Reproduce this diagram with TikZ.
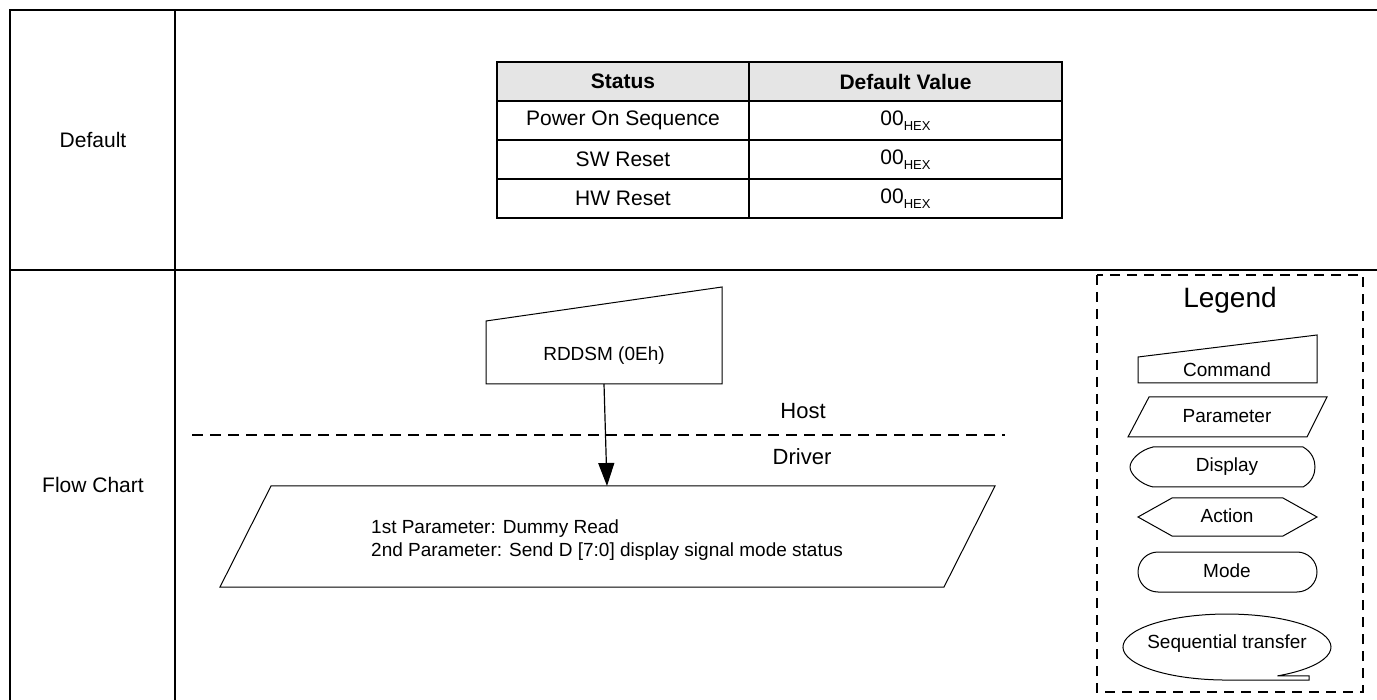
\documentclass[tikz,border=0pt]{standalone}
\usepackage{fontspec}
\setmainfont{Liberation Sans}
\usetikzlibrary{arrows.meta}
\begin{document}
\begin{tikzpicture}[x=1pt,y=-1pt,
  frame/.style={line width=2pt},
  tbl/.style={line width=2pt},
  shp/.style={draw, line width=1pt, line join=miter},
  sepline/.style={line width=1.4pt, dash pattern=on 11pt off 7pt},
  legbox/.style={line width=1.2pt, dash pattern=on 10pt off 7pt},
  big/.style={font=\fontsize{21}{25}\selectfont, inner sep=0pt},
  bigb/.style={font=\fontsize{21}{25}\selectfont\bfseries, inner sep=0pt},
  mid/.style={font=\fontsize{19}{23}\selectfont, inner sep=0pt},
  side/.style={font=\fontsize{22}{26}\selectfont, inner sep=0pt},
  ttl/.style={font=\fontsize{28}{32}\selectfont, inner sep=0pt},
  arr/.style={line width=1.2pt, -{Triangle[length=23pt,width=16pt]}}
]
\useasboundingbox (0,0) rectangle (1377,700);
\fill[white] (0,0) rectangle (1377,700);
\newcommand{\hexv}{00\raisebox{-5pt}{\fontsize{13}{13}\selectfont HEX}}

% outer frame
\draw[frame] (10,700) -- (10,10) -- (1377,10);
\draw[frame] (175,10) -- (175,700);
\draw[frame] (10,270) -- (1377,270);
\node[big] (lDefault) at (93,140) {Default};
\node[big] (lFlow) at (93,485) {Flow Chart};

% inner table
\fill[black!10] (497,62) rectangle (1062,101);
\draw[tbl] (497,62) rectangle (1062,218);
\draw[tbl] (749,62) -- (749,218);
\draw[tbl] (497,101) -- (1062,101);
\draw[tbl] (497,140) -- (1062,140);
\draw[tbl] (497,179) -- (1062,179);
\node[bigb] (hS) at (623,81.5) {Status};
\node[bigb] (hD) at (905.5,81.5) {Default Value};
\node[big] (r1a) at (623,120.5) {Power On Sequence};
\node[big] (r1b) at (905.5,120.5) {\hexv};
\node[big] (r2a) at (623,159.5) {SW Reset};
\node[big] (r2b) at (905.5,159.5) {\hexv};
\node[big] (r3a) at (623,198.5) {HW Reset};
\node[big] (r3b) at (905.5,198.5) {\hexv};

% flow chart
\draw[shp] (486,321) -- (722,287) -- (722,384) -- (486,384) -- cycle;
\node[mid] (cmd) at (604,356) {RDDSM (0Eh)};
\draw[shp] (271,486) -- (995,486) -- (944,587) -- (220,587) -- cycle;
\node[mid, align=left, anchor=west] (par) at (371,540) {1st Parameter: Dummy Read\\2nd Parameter: Send D [7:0] display signal mode status};
\coordinate (cmdbot) at (604,384);
\coordinate (partop) at (607,486);
\coordinate (hl) at (192,435);
\coordinate (hr) at (1005,435);
\draw[sepline] (hl) -- (hr);
\node[side] (host) at (803,411) {Host};
\node[side] (drv) at (802,457) {Driver};
\draw[arr] (cmdbot) -- (partop);

% legend
\draw[legbox] (1097,275) rectangle (1363,692);
\node[ttl] (leg) at (1230,300) {Legend};
\draw[shp] (1138,357) -- (1317,335) -- (1317,383) -- (1138,383) -- cycle;
\node[mid] (lc) at (1227,370) {Command};
\draw[shp] (1149,397) -- (1327,397) -- (1307,437) -- (1128,437) -- cycle;
\node[mid] (lp) at (1227,416) {Parameter};
\draw[shp] (1153,447) -- (1303,447) .. controls (1312,452) and (1315,460) .. (1315,467)
  .. controls (1315,474) and (1312,482) .. (1303,487) -- (1153,487)
  .. controls (1140,484) and (1130,474) .. (1130,467)
  .. controls (1130,460) and (1140,450) .. (1153,447) -- cycle;
\node[mid] (ld) at (1227,467) {Display};
\draw[shp] (1138,517) -- (1172,498) -- (1283,498) -- (1317,517) -- (1283,536) -- (1172,536) -- cycle;
\node[mid] (la) at (1227,516) {Action};
\draw[shp, rounded corners=20pt] (1138,552) rectangle (1317,592);
\node[mid] (lm) at (1227,571) {Mode};
\draw[shp] (1277.4,675.9) arc[start angle=-61, end angle=270, x radius=104pt, y radius=33pt]
  -- (1309,680) -- (1309,675.9) -- (1277.4,675.9);
\node[mid] (ls) at (1227,644) {Sequential transfer};
\end{tikzpicture}
\end{document}
